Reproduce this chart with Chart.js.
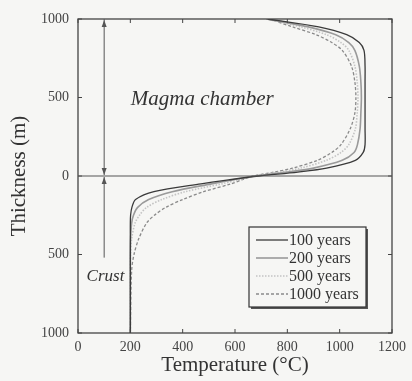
<!DOCTYPE html>
<html>
<head>
<meta charset="utf-8">
<script src="https://cdn.jsdelivr.net/npm/chart.js@4.4.0/dist/chart.umd.min.js"></script>
<style>
  html, body { margin: 0; padding: 0; background: #f6f6f4; }
  #wrap { width: 412px; height: 381px; position: relative; }
</style>
</head>
<body>
<div id="wrap"><canvas id="chart"></canvas></div>
<script>
// Толщина (м): вверх камера, вниз кора
const depths = [1000, 950, 900, 850, 800, 700, 600, 500, 400, 300, 200, 150, 100, 50, 25, 0,
                -25, -50, -100, -150, -200, -250, -300, -400, -500, -600, -1000];

// Температура (°C) для каждой серии
const t100  = [725, 920, 1027, 1075, 1093, 1097, 1097, 1097, 1097, 1097, 1097, 1090, 1060, 950, 840, 690,
               575, 470, 290, 220, 206, 201, 200, 200, 200, 200, 200];
const t200  = [720, 880, 985, 1035, 1058, 1075, 1081, 1083, 1081, 1078, 1068, 1055, 1010, 900, 800, 680,
               590, 510, 360, 270, 228, 212, 205, 201, 200, 200, 200];
const t500  = [720, 850, 950, 1005, 1035, 1058, 1067, 1070, 1067, 1060, 1035, 1005, 950, 850, 770, 670,
               610, 550, 410, 320, 262, 235, 218, 205, 201, 200, 200];
const t1000 = [730, 820, 910, 970, 1010, 1045, 1058, 1062, 1058, 1040, 1005, 970, 915, 820, 750, 670,
               625, 585, 480, 400, 335, 292, 262, 232, 214, 205, 200];

const seriesLabels = ['100 years', '200 years', '500 years', '1000 years'];
const xTicks = [0, 200, 400, 600, 800, 1000, 1200];
const yTicks = [-1000, -500, 0, 500, 1000];

const FONT = '"Liberation Serif", "DejaVu Serif", serif';

function toPoints(temps) {
    return temps.map((t, i) => ({ x: t, y: depths[i] }));
}

const styles = [
    { color: '#3a3a3a', width: 1.3, dash: [] },
    { color: '#9a9a9a', width: 1.6, dash: [] },
    { color: '#c4c4c4', width: 1.6, dash: [1.5, 1.5] },
    { color: '#8a8a8a', width: 1.3, dash: [3, 2] }
];

const allTemps = [t100, t200, t500, t1000];

const datasets = allTemps.map((temps, i) => ({
    label: seriesLabels[i],
    data: toPoints(temps),
    borderColor: styles[i].color,
    borderWidth: styles[i].width,
    borderDash: styles[i].dash,
    pointRadius: 0,
    tension: 0.3,
    fill: false
}));

// Рамка, нулевая линия, стрелки, подписи и легенда
const decorPlugin = {
    id: 'decor',
    afterDatasetsDraw(chart) {
        const { ctx, chartArea: a, scales } = chart;
        const xs = scales.x, ys = scales.y;
        ctx.save();

        // рамка
        ctx.strokeStyle = '#444';
        ctx.lineWidth = 1.3;
        ctx.strokeRect(a.left, a.top, a.right - a.left, a.bottom - a.top);

        // внутренние засечки
        ctx.lineWidth = 1;
        xTicks.forEach(v => {
            const px = xs.getPixelForValue(v);
            ctx.beginPath();
            ctx.moveTo(px, a.bottom); ctx.lineTo(px, a.bottom - 4);
            ctx.moveTo(px, a.top); ctx.lineTo(px, a.top + 4);
            ctx.stroke();
        });
        yTicks.forEach(v => {
            const py = ys.getPixelForValue(v);
            ctx.beginPath();
            ctx.moveTo(a.left, py); ctx.lineTo(a.left + 4, py);
            ctx.moveTo(a.right, py); ctx.lineTo(a.right - 4, py);
            ctx.stroke();
        });

        // линия y = 0
        const y0 = ys.getPixelForValue(0);
        ctx.strokeStyle = '#555';
        ctx.lineWidth = 1;
        ctx.beginPath();
        ctx.moveTo(a.left, y0); ctx.lineTo(a.right, y0);
        ctx.stroke();

        // стрелки
        const ax = xs.getPixelForValue(100);
        const yTop = ys.getPixelForValue(1000);
        const yCrust = ys.getPixelForValue(-520);
        ctx.strokeStyle = '#555';
        ctx.fillStyle = '#555';
        ctx.beginPath();
        ctx.moveTo(ax, yTop); ctx.lineTo(ax, y0 - 1);
        ctx.moveTo(ax, y0 + 1); ctx.lineTo(ax, yCrust);
        ctx.stroke();
        function head(tipY, dir) {
            ctx.beginPath();
            ctx.moveTo(ax, tipY);
            ctx.lineTo(ax - 2.5, tipY + dir * 7);
            ctx.lineTo(ax + 2.5, tipY + dir * 7);
            ctx.closePath();
            ctx.fill();
        }
        head(yTop + 1, 1);
        head(y0 - 1, -1);
        head(y0 + 1, 1);

        // подписи
        ctx.fillStyle = '#333';
        ctx.textAlign = 'center';
        ctx.textBaseline = 'middle';
        ctx.font = 'italic 21px ' + FONT;
        ctx.fillText('Magma chamber', xs.getPixelForValue(475), ys.getPixelForValue(490));
        ctx.font = 'italic 17px ' + FONT;
        ctx.fillText('Crust', xs.getPixelForValue(105), ys.getPixelForValue(-640));

        // легенда
        const lx = 249, ly = 227, lw = 117, lh = 80;
        ctx.fillStyle = '#555';
        ctx.fillRect(lx + 2, ly + 2, lw, lh);
        ctx.fillStyle = '#f6f6f4';
        ctx.fillRect(lx, ly, lw, lh);
        ctx.strokeStyle = '#333';
        ctx.lineWidth = 1.2;
        ctx.strokeRect(lx, ly, lw, lh);
        ctx.font = '16px ' + FONT;
        ctx.textAlign = 'left';
        seriesLabels.forEach((lab, i) => {
            const ry = ly + 13 + i * 18;
            ctx.strokeStyle = styles[i].color;
            ctx.lineWidth = styles[i].width;
            ctx.setLineDash(styles[i].dash);
            ctx.beginPath();
            ctx.moveTo(lx + 7, ry); ctx.lineTo(lx + 39, ry);
            ctx.stroke();
            ctx.setLineDash([]);
            ctx.fillStyle = '#333';
            ctx.fillText(lab, lx + 40, ry + 1);
        });

        ctx.restore();
    }
};

new Chart(document.getElementById('chart'), {
    type: 'line',
    data: { datasets: datasets },
    options: {
        responsive: true,
        maintainAspectRatio: false,
        animation: false,
        layout: { padding: { top: 19, right: 16, left: 0, bottom: 0 } },
        plugins: { legend: { display: false }, tooltip: { enabled: false } },
        scales: {
            x: {
                type: 'linear',
                min: 0, max: 1200,
                afterBuildTicks(scale) { scale.ticks = xTicks.map(v => ({ value: v })); },
                afterFit(scale) { scale.height = 48; },
                grid: { display: false, drawTicks: false },
                border: { display: false },
                ticks: { color: '#444', font: { family: FONT, size: 14 }, padding: 6, maxRotation: 0,
                         callback: v => String(v) },
                title: { display: true, text: 'Temperature (°C)', color: '#333',
                         font: { family: FONT, size: 21 }, padding: { top: 0, bottom: 3 } }
            },
            y: {
                type: 'linear',
                min: -1000, max: 1000,
                afterBuildTicks(scale) { scale.ticks = yTicks.map(v => ({ value: v })); },
                afterFit(scale) { scale.width = 78; },
                grid: { display: false, drawTicks: false },
                border: { display: false },
                ticks: { color: '#444', font: { family: FONT, size: 14 }, padding: 9,
                         callback: v => String(Math.abs(v)) },
                title: { display: true, text: 'Thickness (m)', color: '#333',
                         font: { family: FONT, size: 21 }, padding: { top: 7, bottom: 0 } }
            }
        }
    },
    plugins: [decorPlugin]
});
</script>
</body>
</html>
